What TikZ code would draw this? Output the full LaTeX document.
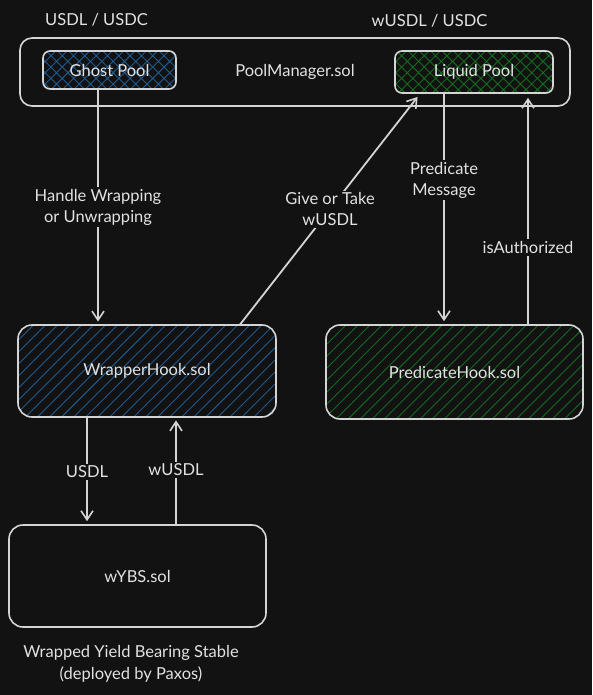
\documentclass[tikz,border=0pt]{standalone}
\usepackage{fontspec}
\setmainfont{Lato}
\usetikzlibrary{patterns.meta,arrows.meta}
\definecolor{bg}{HTML}{121212}
\definecolor{stroke}{HTML}{D4D4D4}
\definecolor{txt}{HTML}{E2E2E2}
\definecolor{hblue}{HTML}{1F5A8F}
\definecolor{hgreen}{HTML}{136B1E}
\tikzset{
  box/.style={draw=stroke, line width=1.6pt, rounded corners=14pt, text=txt, font=\fontsize{16.5}{19}\selectfont},
  poolbox/.style={draw=stroke, line width=1.6pt, rounded corners=7pt, text=txt, font=\fontsize{16.5}{19}\selectfont},
  bluecross/.style={pattern={Hatch[angle=45,distance=8pt,line width=0.9pt]}, pattern color=hblue},
  greencross/.style={pattern={Hatch[angle=45,distance=8pt,line width=0.9pt]}, pattern color=hgreen},
  bluelines/.style={pattern={Lines[angle=45,distance=8.5pt,line width=0.9pt]}, pattern color=hblue},
  greenlines/.style={pattern={Lines[angle=45,distance=8.5pt,line width=0.9pt]}, pattern color=hgreen},
  conn/.style={draw=stroke, line width=1.8pt, -{Straight Barb[length=9pt,width=12pt,line width=1.6pt]}},
  lbl/.style={fill=bg, text=txt, inner sep=2pt, align=center, font=\fontsize{16.5}{21}\selectfont},
  plain/.style={text=txt, align=center, font=\fontsize{16.5}{22.5}\selectfont}
}
\begin{document}
\begin{tikzpicture}[x=1pt,y=-1pt]
\fill[bg] (0,0) rectangle (592,695);
\useasboundingbox (0,0) rectangle (592,695);

\node[plain] (t1) at (96.5,20) {USDL / USDC};
\node[plain] (t2) at (429.5,21) {wUSDL / USDC};

\node[box, rounded corners=12pt, minimum width=550pt, minimum height=68pt] (pm) at (295,72) {};
\node[plain] (pmt) at (295,72) {PoolManager.sol};
\node[poolbox, bluecross, minimum width=133pt, minimum height=38pt] (gp) at (109.5,70) {Ghost Pool};
\node[poolbox, greencross, minimum width=158pt, minimum height=42pt] (lp) at (474,72) {Liquid Pool};

\node[box, bluelines, minimum width=258pt, minimum height=92pt] (wh) at (147,371) {WrapperHook.sol};
\node[box, greenlines, minimum width=257pt, minimum height=94pt] (ph) at (454.5,372) {PredicateHook.sol};
\node[box, minimum width=257pt, minimum height=102pt] (wy) at (137.5,576) {wYBS.sol};

\node[plain] (cap) at (131,664) {Wrapped Yield Bearing Stable\\(deployed by Paxos)};

\draw[conn, shorten >=3pt] ([xshift=-11.5pt]gp.south) -- node[lbl, pos=0.5] {Handle Wrapping\\or Unwrapping} ([xshift=-49pt]wh.north);
\draw[conn, shorten >=4pt] ([xshift=93pt]wh.north) -- node[lbl, pos=0.5] {Give or Take\\wUSDL} ([xshift=-54pt]lp.south);
\draw[conn, shorten >=3pt] ([xshift=-30pt]lp.south) -- node[lbl, pos=0.375] {Predicate\\Message} ([xshift=-10.5pt]ph.north);
\draw[conn, shorten >=4pt] ([xshift=73.5pt]ph.north) -- node[lbl, pos=0.333] {isAuthorized} ([xshift=54pt]lp.south);
\draw[conn, shorten >=3pt] ([xshift=-60pt]wh.south) -- node[lbl, pos=0.51] {USDL} ([xshift=-50.5pt]wy.north);
\draw[conn, shorten >=3pt] ([xshift=38.5pt]wy.north) -- node[lbl, pos=0.51] {wUSDL} ([xshift=29pt]wh.south);
\end{tikzpicture}
\end{document}
